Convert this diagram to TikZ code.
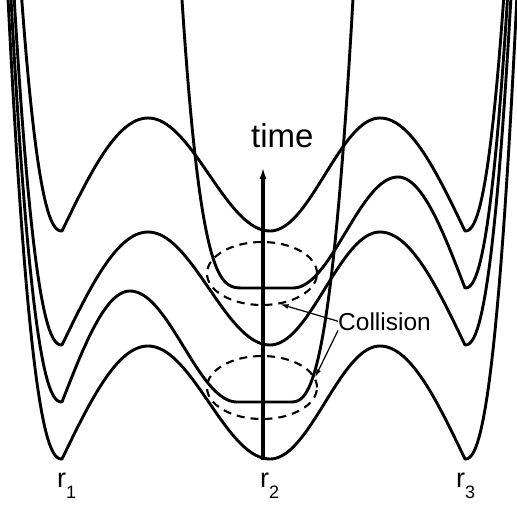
\documentclass[tikz,border=0pt]{standalone}
\usepackage{fontspec}
\setmainfont{Liberation Sans}
\usetikzlibrary{arrows.meta,shapes.geometric}
\tikzset{
  pot/.style={line width=2.9pt, line join=round},
  collring/.style={draw, ellipse, dash pattern=on 8pt off 6pt, line width=2.1pt, minimum width=110pt, minimum height=63pt, inner sep=0pt},
  tarr/.style={-{Latex[length=12pt,width=7pt]}, line width=3.2pt},
  carr/.style={-{Latex[length=8pt,width=5pt]}, line width=1.2pt},
  lbl/.style={inner sep=0pt, anchor=base west}
}
\newcommand{\rlabel}[1]{r\raisebox{-11pt}{\fontsize{18}{18}\selectfont #1}}

\begin{document}
\begin{tikzpicture}[x=1pt,y=-1pt]
\useasboundingbox (0,0) rectangle (517,504);
% potentials, one per time step
\begin{scope}
\clip (0,0) rectangle (517,504);
\foreach \m in {231,345,459}{
  \draw[pot] plot[domain=5:61,samples=30] (\x,{\m-76*pow((62-\x)/25,2.34)})
    -- plot[domain=62:148,samples=30] (\x,{\m-113*sin((\x-62)/86*90)})
    -- plot[domain=148:270,samples=40] (\x,{\m-113*(1+cos((\x-148)/122*180))/2})
    -- plot[domain=270:380,samples=40] (\x,{\m-113*(1+cos((380-\x)/110*180))/2})
    -- plot[domain=380:465,samples=30] (\x,{\m-113*sin((465-\x)/85*90)})
    -- plot[domain=466:522,samples=30] (\x,{\m-76*pow((\x-465)/24,2.34)});
}
% left and middle wells merged
\draw[pot] plot[domain=175:243,samples=40] (\x,{288-30*pow((245-\x)/32,3.34)})
  -- (293,288)
  -- plot[domain=293:398,samples=40] (\x,{288-111*(1-cos((\x-293)/105*180))/2})
  -- plot[domain=398:465,samples=30] (\x,{288-111*sin((465-\x)/67*90)})
  -- plot[domain=466:522,samples=30] (\x,{288-76*pow((\x-465)/24,2.34)});
% middle and right wells merged
\draw[pot] plot[domain=5:61,samples=30] (\x,{402-76*pow((62-\x)/25,2.34)})
  -- plot[domain=62:130,samples=30] (\x,{402-111*sin((\x-62)/68*90)})
  -- plot[domain=130:237,samples=40] (\x,{402-111*(1+cos((\x-130)/107*180))/2})
  -- (290,402)
  -- plot[domain=291:360,samples=40] (\x,{402-25*pow((\x-290)/23,2.76)});
\end{scope}

\node[collring] (up) at (262,273.5) {};
\node[collring] (low) at (262,387.5) {};

\coordinate (tbot) at (263,460);
\coordinate (ttop) at (263,167);
\draw[tarr] (tbot) -- (ttop);
\node[lbl, font=\fontsize{33}{33}\selectfont] (time) at (251,147) {time};

\node[lbl, font=\fontsize{24.5}{24.5}\selectfont] (coll) at (338,330) {Collision};
\draw[carr] (coll.west) -- (up.-59);
\draw[carr] (coll.south west) -- (low.11);

\node[lbl, font=\fontsize{27}{27}\selectfont] (r1) at (57,487) {\rlabel{1}};
\node[lbl, font=\fontsize{27}{27}\selectfont] (r2) at (260,487) {\rlabel{2}};
\node[lbl, font=\fontsize{27}{27}\selectfont] (r3) at (456,487) {\rlabel{3}};
\end{tikzpicture}
\end{document}
